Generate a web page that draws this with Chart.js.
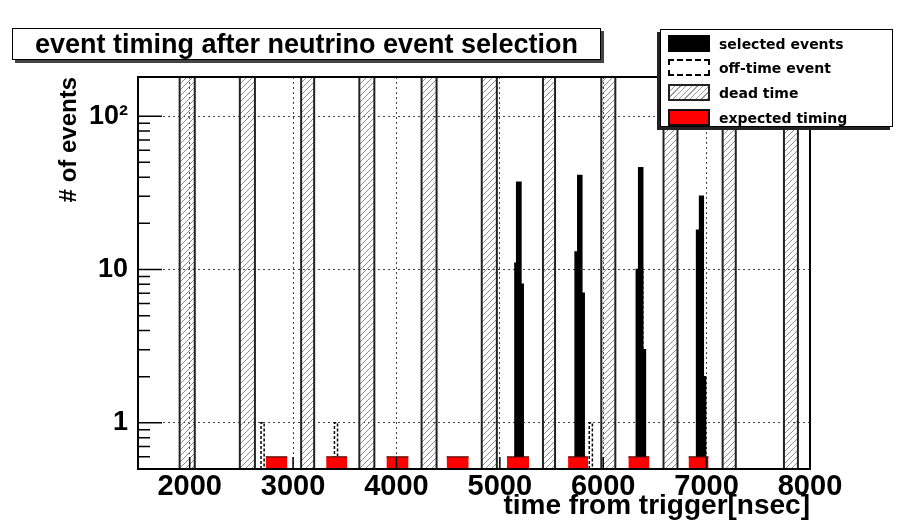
<!DOCTYPE html>
<html><head><meta charset="utf-8">
<script src="https://cdn.jsdelivr.net/npm/chart.js@4"></script>
<style>
html,body{margin:0;padding:0;background:#fff;}
#wrap{position:relative;width:899px;height:527px;overflow:hidden;background:#fff;}
#c{position:absolute;left:0;top:0;}
#title{position:absolute;left:12px;top:28px;width:589px;height:32px;box-sizing:border-box;border:1px solid #000;background:#fff;box-shadow:3px 3px 0 #444;font:bold 27px "Liberation Sans",Arial,sans-serif;line-height:30px;text-align:center;white-space:nowrap;color:#000;}
#legend{position:absolute;left:660px;top:29px;width:233px;height:98px;box-sizing:border-box;border:1px solid #000;background:#fff;box-shadow:-3px 3px 0 #222;font:bold 14px "DejaVu Sans",sans-serif;color:#000;}
.item{position:absolute;left:7px;height:17px;display:flex;align-items:center;white-space:nowrap;}
.sw{width:42px;height:17px;box-sizing:border-box;margin-right:9px;flex:none;}
</style></head>
<body>
<div id="wrap">
<canvas id="c" width="899" height="527"></canvas>
<div id="title"></div>
<div id="legend"></div>
</div>
<script>
// ---- data ----
const titleText = 'event timing after neutrino event selection';
const xTitle = 'time from trigger[nsec]';
const yTitle = '# of events';
const xRange = [1500, 8000];
const yRange = [0.5, 180];
const xTicks = [2000, 3000, 4000, 5000, 6000, 7000, 8000];
const yTicks = [1, 10, 100];
const yTickLabels = ['1', '10', '10\u00B2'];
const yMinorTicks = [0.6, 0.7, 0.8, 0.9, 2, 3, 4, 5, 6, 7, 8, 9, 20, 30, 40, 50, 60, 70, 80, 90];

// dead time windows (ns)
const deadStart = [1903, 2485, 3078, 3641, 4243, 4825, 5417, 5981, 6583, 7155, 7748];
const deadEnd   = [2049, 2631, 3204, 3786, 4388, 4971, 5534, 6117, 6718, 7282, 7883];
// expected bunch timing windows (ns)
const expStart = [2735, 3320, 3903, 4485, 5068, 5660, 6243, 6825];
const expEnd   = [2945, 3524, 4117, 4699, 5282, 5854, 6447, 7019];
const expLevel = [0.6, 0.6, 0.6, 0.6, 0.6, 0.6, 0.6, 0.6];
// selected events histogram bins
const selStart = [5146, 5163, 5204, 5728, 5754, 5793, 6320, 6343, 6382, 6903, 6932, 6968];
const selEnd   = [5163, 5204, 5226, 5754, 5793, 5816, 6343, 6382, 6408, 6932, 6968, 6990];
const selCount = [11, 37, 8, 13, 41, 7, 10, 46, 3, 18, 30, 2];
// off-time events histogram bins
const offStart = [2690, 3400, 5865, 6343];
const offEnd   = [2720, 3430, 5895, 6382];
const offCount = [1, 1, 1, 10];

const legendLabels = ['selected events', 'off-time event', 'dead time', 'expected timing'];

// ---- helpers building the outline point lists the line controller needs ----
// histogram outline: contiguous bins are joined into one stepped outline
function steps(starts, ends, vals, base) {
  const pts = [];
  starts.forEach((s, i) => {
    const e = ends[i], v = Array.isArray(vals) ? vals[i] : vals;
    const joined = i > 0 && starts[i] === ends[i - 1];
    if (!joined) pts.push({x: s, y: base});
    pts.push({x: s, y: v}, {x: e, y: v});
    const nextJoined = i < starts.length - 1 && starts[i + 1] === e;
    if (!nextJoined) pts.push({x: e, y: base}, {x: e, y: null});
  });
  return pts;
}
function tops(starts, ends, vals) {
  const pts = [];
  starts.forEach((s, i) => {
    pts.push({x: s, y: vals[i]}, {x: ends[i], y: vals[i]}, {x: ends[i], y: null});
  });
  return pts;
}

const canvas = document.getElementById('c');
const ctx = canvas.getContext('2d');
const pc = document.createElement('canvas');
pc.width = 6; pc.height = 6;
const g = pc.getContext('2d');
g.strokeStyle = '#8c8c8c'; g.lineWidth = 1;
g.beginPath();
g.moveTo(0, 6); g.lineTo(6, 0);
g.moveTo(-1, 1); g.lineTo(1, -1);
g.moveTo(5, 7); g.lineTo(7, 5);
g.stroke();
const hatch = ctx.createPattern(pc, 'repeat');

const FONT = '"Liberation Sans", Arial, sans-serif';

const framePlugin = {
  id: 'frame',
  afterDatasetsDraw(chart) {
    const {ctx, chartArea: a, scales: {x, y}} = chart;
    ctx.save();
    ctx.strokeStyle = '#000';
    ctx.lineWidth = 1.5;
    ctx.beginPath();
    yTicks.forEach(v => { const p = y.getPixelForValue(v); ctx.moveTo(a.left, p); ctx.lineTo(a.left + 24, p); });
    yMinorTicks.forEach(v => { const p = y.getPixelForValue(v); ctx.moveTo(a.left, p); ctx.lineTo(a.left + 12, p); });
    xTicks.forEach(v => { const p = x.getPixelForValue(v); ctx.moveTo(p, a.bottom); ctx.lineTo(p, a.bottom - 12); });
    ctx.stroke();
    ctx.lineWidth = 2;
    ctx.strokeRect(a.left, a.top, a.right - a.left, a.bottom - a.top);
    ctx.restore();
  }
};

const chart = new Chart(ctx, {
  type: 'line',
  data: {
    datasets: [
      {label: legendLabels[3], data: tops(expStart, expEnd, expLevel), fill: 'start',
       backgroundColor: '#ff0000', borderColor: '#300', borderWidth: 1},
      {label: legendLabels[0], data: steps(selStart, selEnd, selCount, yRange[0]), fill: 'start',
       backgroundColor: '#000', borderColor: '#000', borderWidth: 1.5},
      {label: legendLabels[1], data: steps(offStart, offEnd, offCount, yRange[0]), fill: false,
       borderColor: '#000', borderWidth: 1.5, borderDash: [3, 2]},
      {label: legendLabels[2], data: steps(deadStart, deadEnd, yRange[1], yRange[0]), fill: 'start',
       backgroundColor: hatch, borderColor: '#222', borderWidth: 2}
    ]
  },
  options: {
    responsive: false,
    animation: false,
    devicePixelRatio: 1,
    spanGaps: false,
    layout: {padding: {left: 55, top: 77, right: 89, bottom: 4}},
    elements: {point: {radius: 0, hoverRadius: 0}, line: {tension: 0}},
    plugins: {legend: {display: false}, tooltip: {enabled: false}},
    scales: {
      x: {
        type: 'linear', min: xRange[0], max: xRange[1],
        afterBuildTicks: s => { s.ticks = xTicks.map(v => ({value: v})); },
        afterFit: s => { s.height = 54; },
        ticks: {padding: 1, color: '#000', autoSkip: false, maxRotation: 0,
                font: {family: FONT, size: 29, weight: 'bold'}, callback: v => String(v)},
        grid: {drawTicks: false, color: '#444', lineWidth: 1},
        border: {display: false, dash: [2, 3]},
        title: {display: true, text: xTitle, align: 'end', color: '#000', padding: 0,
                font: {family: FONT, size: 28, weight: 'bold'}}
      },
      y: {
        type: 'logarithmic', min: yRange[0], max: yRange[1],
        afterBuildTicks: s => { s.ticks = yTicks.map(v => ({value: v})); },
        afterFit: s => { s.width = 83; },
        ticks: {padding: 10, color: '#000', autoSkip: false,
                font: {family: FONT, size: 27, weight: 'bold'},
                callback: v => { const i = yTicks.indexOf(v); return i >= 0 ? yTickLabels[i] : ''; }},
        grid: {drawTicks: false, color: '#444', lineWidth: 1},
        border: {display: false, dash: [2, 3]},
        title: {display: true, text: yTitle, align: 'end', color: '#000', padding: 0,
                font: {family: FONT, size: 24, weight: 'bold'}}
      }
    }
  },
  plugins: [framePlugin]
});

// title box and legend box
document.getElementById('title').textContent = titleText;
const swStyles = [
  'background:#000;border:1px solid #000;',
  'background:#fff;border:2px dashed #000;',
  'background:repeating-linear-gradient(135deg,#fff 0 3px,#999 3px 4px);border:2px solid #222;',
  'background:#f00;border:2px solid #111;'
];
const tops2 = [5, 29, 54, 79];
const leg = document.getElementById('legend');
legendLabels.forEach((t, i) => {
  const d = document.createElement('div');
  d.className = 'item';
  d.style.top = tops2[i] + 'px';
  const sw = document.createElement('div');
  sw.className = 'sw';
  sw.style.cssText = swStyles[i];
  const sp = document.createElement('span');
  sp.textContent = t;
  d.appendChild(sw); d.appendChild(sp);
  leg.appendChild(d);
});
</script>
</body></html>
